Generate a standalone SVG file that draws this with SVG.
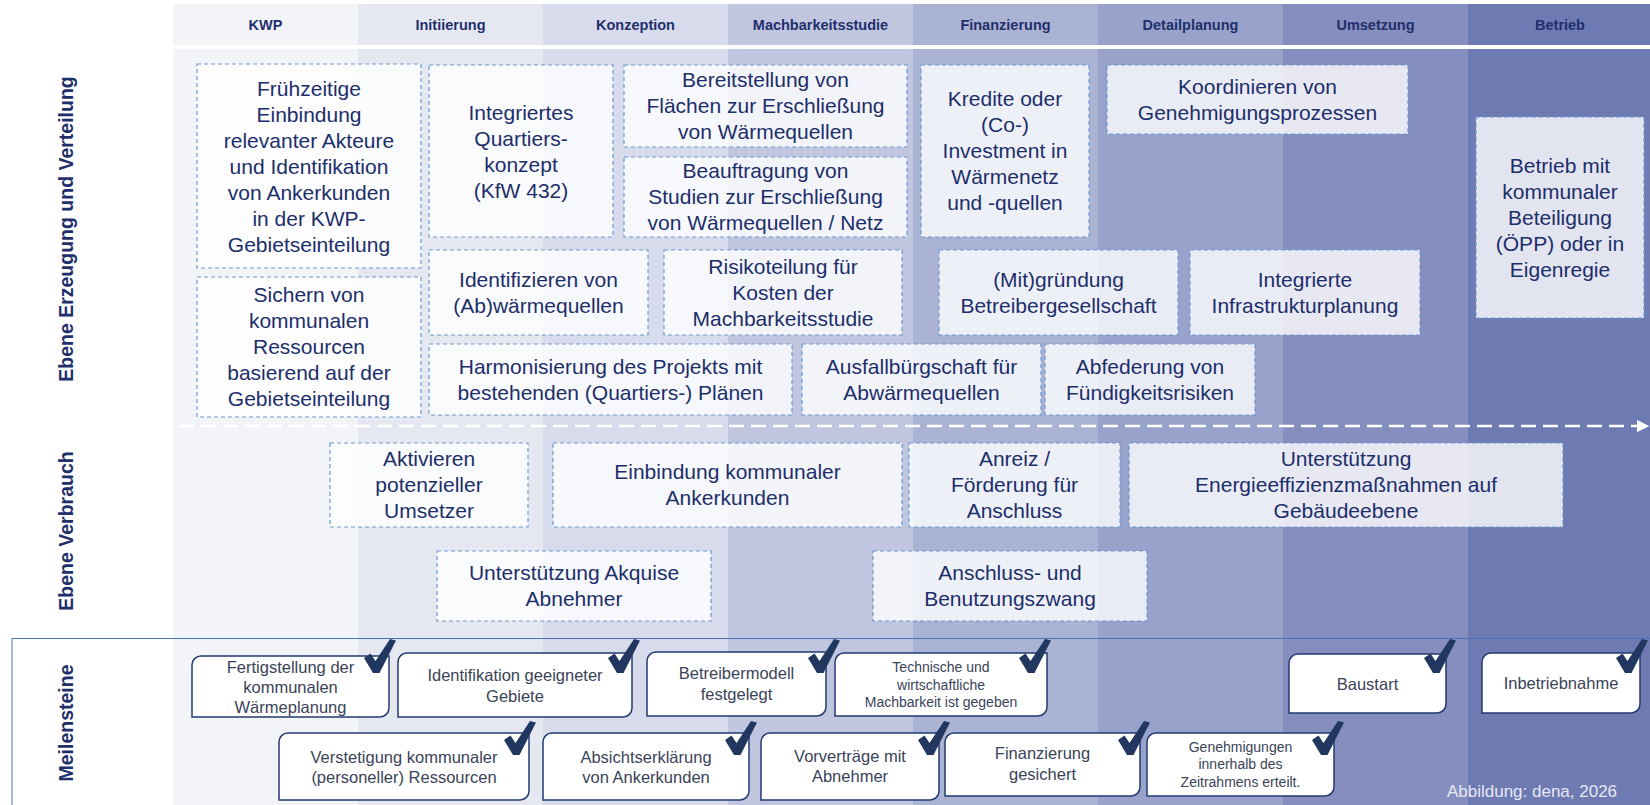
<svg xmlns="http://www.w3.org/2000/svg" width="1650" height="805" viewBox="0 0 1650 805">
  <style>
    text { font-family: "Liberation Sans", Arial, sans-serif; text-anchor: middle; }
    .hd { font-size: 14.5px; font-weight: bold; fill: #1f2f6b; }
    .side { font-size: 19.5px; font-weight: bold; fill: #1f2f6b; }
    .box { fill: #ffffff; fill-opacity: 0.8; stroke: #6a98d4; stroke-width: 1.2; stroke-dasharray: 4 3; }
    .bt { font-size: 21px; fill: #1c2e6a; }
    .ms { fill: #ffffff; stroke: #233a70; stroke-width: 1.5; }
    .mt { font-size: 16.5px; fill: #3a4358; }
    .mts { font-size: 14px; fill: #3a4358; }
    .chk { fill: #22375f; }
    .credit { font-size: 17px; fill: #e6e8f2; }
  </style>
  <defs>
    <path id="check" d="M0,19 L6.5,14.5 L11.5,22 L26,0 L32,1.5 L15.5,34 L9,34 Z"/>
    <marker id="arrowW" viewBox="0 0 10 10" refX="9" refY="5" markerWidth="5" markerHeight="5" markerUnits="strokeWidth" orient="auto">
      <path d="M0,0 L10,5 L0,10 Z" fill="#ffffff"/>
    </marker>
  </defs>

  <rect x="0" y="0" width="1650" height="805" fill="#ffffff"/>

  <!-- phase columns -->
  <g id="columns">
    <rect x="173" y="4" width="185" height="801" fill="#f3f4f8"/>
    <rect x="358" y="4" width="185" height="801" fill="#e6e8f1"/>
    <rect x="543" y="4" width="185" height="801" fill="#d7dbeb"/>
    <rect x="728" y="4" width="185" height="801" fill="#c1c6e0"/>
    <rect x="913" y="4" width="185" height="801" fill="#abb3d4"/>
    <rect x="1098" y="4" width="185" height="801" fill="#98a2cb"/>
    <rect x="1283" y="4" width="185" height="801" fill="#858ebe"/>
    <rect x="1468" y="4" width="182" height="801" fill="#6e7ab2"/>
    <rect x="173" y="45" width="1477" height="4" fill="#ffffff"/>
  </g>

  <g id="phase-headers">
    <text class="hd" x="265.5" y="30">KWP</text>
    <text class="hd" x="450.5" y="30">Initiierung</text>
    <text class="hd" x="635.5" y="30">Konzeption</text>
    <text class="hd" x="820.5" y="30">Machbarkeitsstudie</text>
    <text class="hd" x="1005.5" y="30">Finanzierung</text>
    <text class="hd" x="1190.5" y="30">Detailplanung</text>
    <text class="hd" x="1375.5" y="30">Umsetzung</text>
    <text class="hd" x="1560" y="30">Betrieb</text>
  </g>

  <!-- level labels -->
  <g id="level-labels">
    <text class="side" transform="translate(73,229) rotate(-90)">Ebene Erzeugung und Verteilung</text>
    <text class="side" transform="translate(73,531) rotate(-90)">Ebene Verbrauch</text>
    <text class="side" transform="translate(73,723) rotate(-90)">Meilensteine</text>
  </g>

  <!-- milestone frame -->
  <path id="milestone-frame" d="M12,805 V638.5 H1650" fill="none" stroke="#4a72b8" stroke-width="1"/>

  <g id="connectors">
    <line x1="179" y1="426" x2="1648" y2="426" stroke="#ffffff" stroke-width="2.5" stroke-dasharray="15 7" marker-end="url(#arrowW)"/>
  </g>

  <!-- generation and distribution level -->
  <g id="n-fruehzeitige">
    <rect class="box" x="197" y="64" width="224" height="204"/>
    <text class="bt" x="309" y="96">Frühzeitige</text>
    <text class="bt" x="309" y="122">Einbindung</text>
    <text class="bt" x="309" y="148">relevanter Akteure</text>
    <text class="bt" x="309" y="174">und Identifikation</text>
    <text class="bt" x="309" y="200">von Ankerkunden</text>
    <text class="bt" x="309" y="226">in der KWP-</text>
    <text class="bt" x="309" y="252">Gebietseinteilung</text>
  </g>
  <g id="n-quartierskonzept">
    <rect class="box" x="429" y="65" width="184" height="172"/>
    <text class="bt" x="521" y="120">Integriertes</text>
    <text class="bt" x="521" y="146">Quartiers-</text>
    <text class="bt" x="521" y="172">konzept</text>
    <text class="bt" x="521" y="198">(KfW 432)</text>
  </g>
  <g id="n-bereitstellung">
    <rect class="box" x="624" y="65" width="283" height="82"/>
    <text class="bt" x="765.5" y="87">Bereitstellung von</text>
    <text class="bt" x="765.5" y="113">Flächen zur Erschließung</text>
    <text class="bt" x="765.5" y="139">von Wärmequellen</text>
  </g>
  <g id="n-beauftragung">
    <rect class="box" x="624" y="157" width="283" height="80"/>
    <text class="bt" x="765.5" y="178">Beauftragung von</text>
    <text class="bt" x="765.5" y="204">Studien zur Erschließung</text>
    <text class="bt" x="765.5" y="230">von Wärmequellen / Netz</text>
  </g>
  <g id="n-kredite">
    <rect class="box" x="921" y="65" width="168" height="172"/>
    <text class="bt" x="1005" y="106">Kredite oder</text>
    <text class="bt" x="1005" y="132">(Co-)</text>
    <text class="bt" x="1005" y="158">Investment in</text>
    <text class="bt" x="1005" y="184">Wärmenetz</text>
    <text class="bt" x="1005" y="210">und -quellen</text>
  </g>
  <g id="n-koordinieren">
    <rect class="box" x="1107" y="65" width="301" height="69"/>
    <text class="bt" x="1257.5" y="94">Koordinieren von</text>
    <text class="bt" x="1257.5" y="120">Genehmigungsprozessen</text>
  </g>
  <g id="n-betrieb">
    <rect class="box" x="1476" y="117" width="168" height="201"/>
    <text class="bt" x="1560" y="173">Betrieb mit</text>
    <text class="bt" x="1560" y="199">kommunaler</text>
    <text class="bt" x="1560" y="225">Beteiligung</text>
    <text class="bt" x="1560" y="251">(ÖPP) oder in</text>
    <text class="bt" x="1560" y="277">Eigenregie</text>
  </g>
  <g id="n-sichern">
    <rect class="box" x="197" y="277" width="224" height="140"/>
    <text class="bt" x="309" y="302">Sichern von</text>
    <text class="bt" x="309" y="328">kommunalen</text>
    <text class="bt" x="309" y="354">Ressourcen</text>
    <text class="bt" x="309" y="380">basierend auf der</text>
    <text class="bt" x="309" y="406">Gebietseinteilung</text>
  </g>
  <g id="n-identifizieren">
    <rect class="box" x="429" y="250" width="219" height="85"/>
    <text class="bt" x="538.5" y="287">Identifizieren von</text>
    <text class="bt" x="538.5" y="313">(Ab)wärmequellen</text>
  </g>
  <g id="n-risikoteilung">
    <rect class="box" x="664" y="250" width="238" height="85"/>
    <text class="bt" x="783" y="274">Risikoteilung für</text>
    <text class="bt" x="783" y="300">Kosten der</text>
    <text class="bt" x="783" y="326">Machbarkeitsstudie</text>
  </g>
  <g id="n-mitgruendung">
    <rect class="box" x="939" y="250" width="239" height="85"/>
    <text class="bt" x="1058.5" y="287">(Mit)gründung</text>
    <text class="bt" x="1058.5" y="313">Betreibergesellschaft</text>
  </g>
  <g id="n-infrastruktur">
    <rect class="box" x="1190" y="250" width="230" height="85"/>
    <text class="bt" x="1305" y="287">Integrierte</text>
    <text class="bt" x="1305" y="313">Infrastrukturplanung</text>
  </g>
  <g id="n-harmonisierung">
    <rect class="box" x="429" y="344" width="363" height="71"/>
    <text class="bt" x="610.5" y="374">Harmonisierung des Projekts mit</text>
    <text class="bt" x="610.5" y="400">bestehenden (Quartiers-) Plänen</text>
  </g>
  <g id="n-ausfallbuergschaft">
    <rect class="box" x="802" y="344" width="239" height="71"/>
    <text class="bt" x="921.5" y="374">Ausfallbürgschaft für</text>
    <text class="bt" x="921.5" y="400">Abwärmequellen</text>
  </g>
  <g id="n-abfederung">
    <rect class="box" x="1045" y="344" width="210" height="71"/>
    <text class="bt" x="1150" y="374">Abfederung von</text>
    <text class="bt" x="1150" y="400">Fündigkeitsrisiken</text>
  </g>

  <!-- consumption level -->
  <g id="n-aktivieren">
    <rect class="box" x="330" y="443" width="198" height="84"/>
    <text class="bt" x="429" y="466">Aktivieren</text>
    <text class="bt" x="429" y="492">potenzieller</text>
    <text class="bt" x="429" y="518">Umsetzer</text>
  </g>
  <g id="n-einbindung">
    <rect class="box" x="553" y="443" width="349" height="84"/>
    <text class="bt" x="727.5" y="479">Einbindung kommunaler</text>
    <text class="bt" x="727.5" y="505">Ankerkunden</text>
  </g>
  <g id="n-anreiz">
    <rect class="box" x="909" y="443" width="211" height="84"/>
    <text class="bt" x="1014.5" y="466">Anreiz /</text>
    <text class="bt" x="1014.5" y="492">Förderung für</text>
    <text class="bt" x="1014.5" y="518">Anschluss</text>
  </g>
  <g id="n-energieeffizienz">
    <rect class="box" x="1129" y="443" width="434" height="84"/>
    <text class="bt" x="1346" y="466">Unterstützung</text>
    <text class="bt" x="1346" y="492">Energieeffizienzmaßnahmen auf</text>
    <text class="bt" x="1346" y="518">Gebäudeebene</text>
  </g>
  <g id="n-akquise">
    <rect class="box" x="437" y="551" width="274" height="70"/>
    <text class="bt" x="574" y="580">Unterstützung Akquise</text>
    <text class="bt" x="574" y="606">Abnehmer</text>
  </g>
  <g id="n-anschlusszwang">
    <rect class="box" x="873" y="551" width="274" height="70"/>
    <text class="bt" x="1010" y="580">Anschluss- und</text>
    <text class="bt" x="1010" y="606">Benutzungszwang</text>
  </g>

  <!-- milestones -->
  <g id="m-waermeplanung">
    <path class="ms" d="M201,656 H389 V708 A9,9 0 0 1 380,717 H192 V665 A9,9 0 0 1 201,656 Z"/>
    <text class="mt" x="290.5" y="673">Fertigstellung der</text>
    <text class="mt" x="290.5" y="693">kommunalen</text>
    <text class="mt" x="290.5" y="713">Wärmeplanung</text>
    <use href="#check" class="chk" x="364" y="639"/>
  </g>
  <g id="m-gebiete">
    <path class="ms" d="M407,653 H632 V708 A9,9 0 0 1 623,717 H398 V662 A9,9 0 0 1 407,653 Z"/>
    <text class="mt" x="515" y="681">Identifikation geeigneter</text>
    <text class="mt" x="515" y="702">Gebiete</text>
    <use href="#check" class="chk" x="608" y="639"/>
  </g>
  <g id="m-betreibermodell">
    <path class="ms" d="M656,652 H826 V707 A9,9 0 0 1 817,716 H647 V661 A9,9 0 0 1 656,652 Z"/>
    <text class="mt" x="736.5" y="679">Betreibermodell</text>
    <text class="mt" x="736.5" y="700">festgelegt</text>
    <use href="#check" class="chk" x="808" y="639"/>
  </g>
  <g id="m-machbarkeit">
    <path class="ms" d="M844,653 H1047 V707 A9,9 0 0 1 1038,716 H835 V662 A9,9 0 0 1 844,653 Z"/>
    <text class="mts" x="941" y="672">Technische und</text>
    <text class="mts" x="941" y="690">wirtschaftliche</text>
    <text class="mts" x="941" y="707">Machbarkeit ist gegeben</text>
    <use href="#check" class="chk" x="1019" y="639"/>
  </g>
  <g id="m-baustart">
    <path class="ms" d="M1298,654 H1446 V704 A9,9 0 0 1 1437,713 H1289 V663 A9,9 0 0 1 1298,654 Z"/>
    <text class="mt" x="1367.5" y="690">Baustart</text>
    <use href="#check" class="chk" x="1424" y="639"/>
  </g>
  <g id="m-inbetriebnahme">
    <path class="ms" d="M1491,653 H1640 V704 A9,9 0 0 1 1631,713 H1482 V662 A9,9 0 0 1 1491,653 Z"/>
    <text class="mt" x="1561" y="689">Inbetriebnahme</text>
    <use href="#check" class="chk" x="1616" y="639"/>
  </g>
  <g id="m-ressourcen">
    <path class="ms" d="M288,733 H529 V791 A9,9 0 0 1 520,800 H279 V742 A9,9 0 0 1 288,733 Z"/>
    <text class="mt" x="404" y="763">Verstetigung kommunaler</text>
    <text class="mt" x="404" y="783">(personeller) Ressourcen</text>
    <use href="#check" class="chk" x="504" y="721"/>
  </g>
  <g id="m-absichtserklaerung">
    <path class="ms" d="M552,733 H749 V791 A9,9 0 0 1 740,800 H543 V742 A9,9 0 0 1 552,733 Z"/>
    <text class="mt" x="646" y="763">Absichtserklärung</text>
    <text class="mt" x="646" y="783">von Ankerkunden</text>
    <use href="#check" class="chk" x="725" y="721"/>
  </g>
  <g id="m-vorvertraege">
    <path class="ms" d="M770,733 H939 V791 A9,9 0 0 1 930,800 H761 V742 A9,9 0 0 1 770,733 Z"/>
    <text class="mt" x="850" y="762">Vorverträge mit</text>
    <text class="mt" x="850" y="782">Abnehmer</text>
    <use href="#check" class="chk" x="918" y="721"/>
  </g>
  <g id="m-finanzierung">
    <path class="ms" d="M954,733 H1140 V787 A9,9 0 0 1 1131,796 H945 V742 A9,9 0 0 1 954,733 Z"/>
    <text class="mt" x="1042.5" y="759">Finanzierung</text>
    <text class="mt" x="1042.5" y="780">gesichert</text>
    <use href="#check" class="chk" x="1118" y="721"/>
  </g>
  <g id="m-genehmigungen">
    <path class="ms" d="M1156,733 H1334 V787 A9,9 0 0 1 1325,796 H1147 V742 A9,9 0 0 1 1156,733 Z"/>
    <text class="mts" x="1240.5" y="752">Genehmigungen</text>
    <text class="mts" x="1240.5" y="769">innerhalb des</text>
    <text class="mts" x="1240.5" y="787">Zeitrahmens erteilt.</text>
    <use href="#check" class="chk" x="1312" y="721"/>
  </g>

  <text class="credit" x="1532" y="797">Abbildung: dena, 2026</text>
</svg>
